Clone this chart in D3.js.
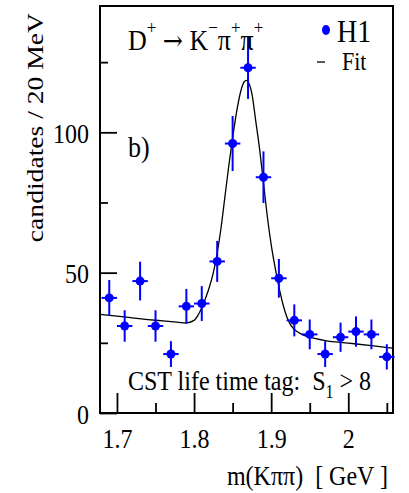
<!DOCTYPE html>
<html>
<head>
<meta charset="utf-8">
<script src="https://cdn.jsdelivr.net/npm/d3@7"></script>
<style>
  body { margin: 0; background: #fff; }
  svg { display: block; font-family: "Liberation Serif", "Times New Roman", serif; }
  text { white-space: pre; }
</style>
</head>
<body>
<svg id="chart" width="409" height="493"></svg>
<script>
// data
const massBins = [1.69, 1.71, 1.73, 1.75, 1.77, 1.79, 1.81, 1.83, 1.85, 1.87,
                  1.89, 1.91, 1.93, 1.95, 1.97, 1.99, 2.01, 2.03, 2.05];
const candidates = [41, 31, 47, 31, 21, 38, 39, 54, 96, 123,
                    84, 48, 33, 28, 21, 27, 29, 28, 20];
const candErrors = [6.4, 5.6, 6.9, 5.6, 4.6, 6.2, 6.2, 7.3, 9.8, 11.1,
                    9.2, 6.9, 5.7, 5.3, 4.6, 5.2, 5.4, 5.3, 4.5];
const binHalf = 0.01;

const fitMass = [1.678, 1.70, 1.72, 1.74, 1.76, 1.78, 1.79, 1.80, 1.805, 1.81,
                 1.815, 1.82, 1.825, 1.83, 1.835, 1.84, 1.845, 1.85, 1.855, 1.86,
                 1.865, 1.868, 1.87, 1.875, 1.88, 1.885, 1.89, 1.895, 1.90, 1.905,
                 1.91, 1.915, 1.92, 1.925, 1.93, 1.94, 1.95, 1.97, 2.00, 2.03, 2.058];
const fitValue = [35.1, 34.5, 33.9, 33.3, 32.8, 32.3, 32.1, 33.0, 34.8, 37.5,
                  41, 45, 50, 57, 66, 77, 88, 98, 107, 114,
                  118, 118.5, 118, 113.8, 104, 94, 82, 70, 60, 52,
                  45, 39, 34.5, 31.5, 29.8, 28, 27, 25.8, 24.9, 24, 23.1];

const xMajor = [1.7, 1.8, 1.9, 2.0];
const xMinor = [1.75, 1.85, 1.95, 2.05];
const yMajor = [0, 50, 100];
const yMinor = [25, 75, 125];

const svg = d3.select("#chart");
const mLeft = 100, mRight = 393, mTop = 6, mBottom = 413;
const stretch = 1.15;

const x = d3.scaleLinear().domain([1.678, 2.058]).range([mLeft, mRight]);
const y = d3.scaleLinear().domain([0, 145]).range([mBottom, mTop]);

// x axis: ticks pointing up into the frame
const xAxisG = svg.append("g")
    .attr("transform", `translate(0,${mBottom})`)
    .call(d3.axisBottom(x).tickValues(xMajor).tickSize(-20).tickFormat(d3.format("")));
xAxisG.select(".domain").remove();
xAxisG.selectAll(".tick line").attr("stroke", "#000").attr("stroke-width", 1.8);
xAxisG.selectAll(".tick text")
    .attr("y", null).attr("dy", null)
    .attr("transform", `translate(0,35) scale(1,${stretch})`)
    .attr("font-size", 24).attr("font-family", "Liberation Serif").attr("fill", "#000");
svg.append("g")
    .attr("transform", `translate(0,${mBottom})`)
    .call(d3.axisBottom(x).tickValues(xMinor).tickSize(-10).tickFormat(""))
    .call(g => g.select(".domain").remove())
    .selectAll(".tick line").attr("stroke", "#000").attr("stroke-width", 1.8);

// y axis: ticks pointing right into the frame
const yAxisG = svg.append("g")
    .attr("transform", `translate(${mLeft},0)`)
    .call(d3.axisLeft(y).tickValues(yMajor).tickSize(-17));
yAxisG.select(".domain").remove();
yAxisG.selectAll(".tick line").attr("stroke", "#000").attr("stroke-width", 1.8);
yAxisG.selectAll(".tick text")
    .attr("x", null).attr("dy", null)
    .attr("transform", `translate(-11,10) scale(1,${stretch})`)
    .attr("font-size", 24).attr("font-family", "Liberation Serif").attr("fill", "#000");
svg.append("g")
    .attr("transform", `translate(${mLeft},0)`)
    .call(d3.axisLeft(y).tickValues(yMinor).tickSize(-8).tickFormat(""))
    .call(g => g.select(".domain").remove())
    .selectAll(".tick line").attr("stroke", "#000").attr("stroke-width", 1.8);

// frame
svg.append("rect")
    .attr("x", mLeft).attr("y", mTop)
    .attr("width", mRight - mLeft).attr("height", mBottom - mTop)
    .attr("fill", "none").attr("stroke", "#000").attr("stroke-width", 2);

// fit curve
svg.append("path")
    .datum(fitMass.map((m, i) => [m, fitValue[i]]))
    .attr("fill", "none").attr("stroke", "#000").attr("stroke-width", 1.3)
    .attr("d", d3.line().x(d => x(d[0])).y(d => y(d[1])).curve(d3.curveMonotoneX));

// data points with error bars
const pts = svg.append("g").attr("stroke", "#0000ff").attr("stroke-width", 2);
massBins.forEach((m, i) => {
  pts.append("line")
    .attr("x1", x(m)).attr("x2", x(m))
    .attr("y1", y(candidates[i] - candErrors[i])).attr("y2", y(candidates[i] + candErrors[i]));
  pts.append("line")
    .attr("x1", x(m - binHalf)).attr("x2", x(m + binHalf))
    .attr("y1", y(candidates[i])).attr("y2", y(candidates[i]));
});
svg.append("g").selectAll("circle")
    .data(massBins)
    .join("circle")
    .attr("cx", d => x(d))
    .attr("cy", (d, i) => y(candidates[i]))
    .attr("r", 4.5)
    .attr("fill", "#0000ff");

// texts
function label(px, py, size, extra) {
  return svg.append("text")
      .attr("transform", `translate(${px},${py}) scale(1,${stretch})` + (extra || ""))
      .attr("font-size", size).attr("fill", "#000");
}

const title = label(128, 50, 26);
title.append("tspan").text("D");
title.append("tspan").attr("dy", -14).attr("font-size", 17).text("+");
title.append("tspan").attr("dy", 14).text(" ");
title.append("tspan").attr("font-family", "DejaVu Serif").attr("font-size", 24).text("\u2192");
title.append("tspan").text(" K");
title.append("tspan").attr("dy", -14).attr("font-size", 17).text("\u2212");
title.append("tspan").attr("dy", 14).text("\u03c0");
title.append("tspan").attr("dy", -14).attr("font-size", 17).text("+");
title.append("tspan").attr("dy", 14).text("\u03c0");
title.append("tspan").attr("dy", -14).attr("font-size", 17).text("+");

// legend
svg.append("ellipse").attr("cx", 326).attr("cy", 30).attr("rx", 4).attr("ry", 5).attr("fill", "#0000ff");
label(337, 42, 28).text("H1");
svg.append("line").attr("x1", 317).attr("x2", 325).attr("y1", 62).attr("y2", 62)
    .attr("stroke", "#000").attr("stroke-width", 1.3);
label(342, 70, 22).text("Fit");

label(128, 157, 26).text("b)");

const tag = label(128, 390, 24);
tag.append("tspan").text("CST life time tag:  S");
tag.append("tspan").attr("dy", 7).attr("font-size", 16).text("1");
tag.append("tspan").attr("dy", -7).text(" > 8");

label(388, 485, 24).attr("text-anchor", "end").text("m(K\u03c0\u03c0)  [ GeV ]");

label(43, 13, 24, " rotate(-90)").attr("text-anchor", "end").text("candidates / 20 MeV");
</script>
</body>
</html>
